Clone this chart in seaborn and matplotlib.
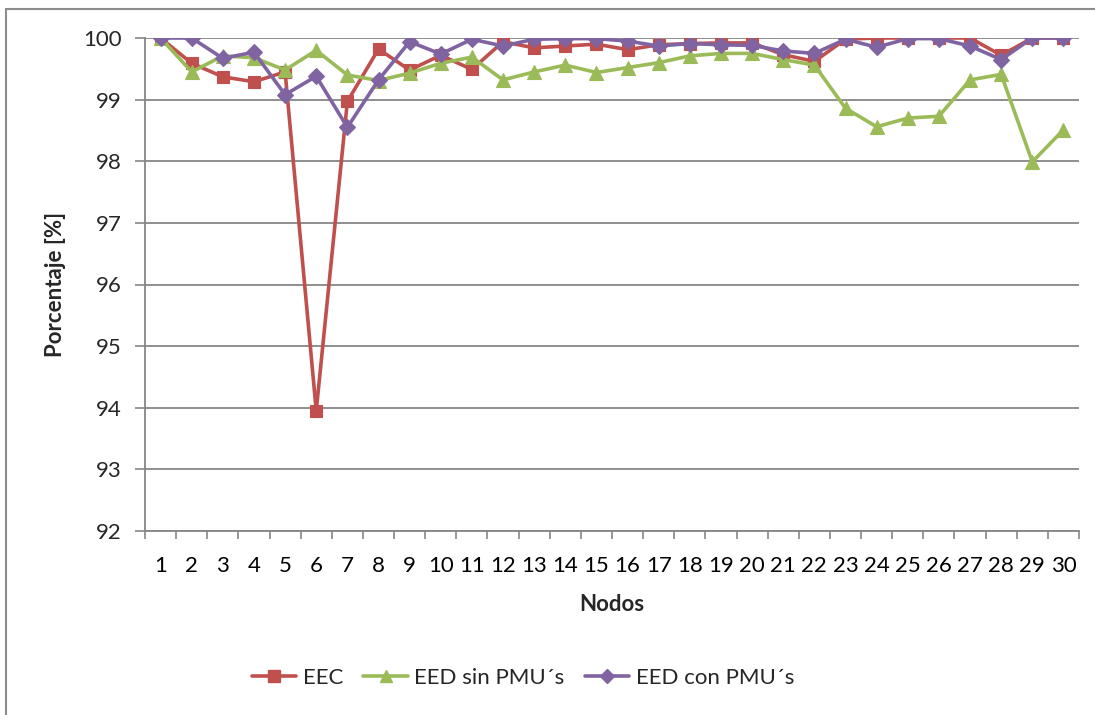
import matplotlib
matplotlib.use("Agg")
import matplotlib.pyplot as plt
from matplotlib.lines import Line2D
from matplotlib.ticker import FixedLocator, NullFormatter
import seaborn as sns
import pandas as pd

# Node numbers and estimation percentages per method
nodos = list(range(1, 31))
eec = [100.0, 99.59, 99.37, 99.29, 99.45, 93.95, 98.97, 99.82, 99.48, 99.72,
       99.49, 99.94, 99.84, 99.87, 99.90, 99.81, 99.89, 99.91, 99.92, 99.92,
       99.73, 99.62, 99.98, 100.0, 100.0, 100.0, 100.0, 99.72, 100.0, 100.0]
eed_sin = [100.0, 99.45, 99.71, 99.68, 99.48, 99.80, 99.40, 99.31, 99.43, 99.59,
           99.69, 99.32, 99.45, 99.56, 99.44, 99.52, 99.60, 99.71, 99.75, 99.75,
           99.65, 99.56, 98.86, 98.56, 98.70, 98.73, 99.32, 99.41, 97.99, 98.51]
eed_con = [100.0, 100.0, 99.67, 99.77, 99.08, 99.38, 98.55, 99.32, 99.94, 99.74,
           99.98, 99.87, 99.98, 99.99, 99.99, 99.95, 99.87, 99.91, 99.89, 99.88,
           99.79, 99.75, 99.98, 99.85, 99.99, 99.99, 99.87, 99.65, 100.0, 100.0]
series_names = ["EEC", "EED sin PMU\u00b4s", "EED con PMU\u00b4s"]
y_ticks = list(range(92, 101))

colors = ["#C0504D", "#9BBB59", "#8064A2"]
markers = ["s", "^", "D"]
msizes = [9, 10, 8]

df = pd.DataFrame({
    "Nodos": nodos * 3,
    "Porcentaje": eec + eed_sin + eed_con,
    "Serie": [series_names[0]] * 30 + [series_names[1]] * 30 + [series_names[2]] * 30,
})

sns.set_theme(style="white")
plt.rcParams["font.family"] = ["Lato", "DejaVu Sans"]
fs = 16

fig = plt.figure(figsize=(10.95, 7.15), dpi=100)
ax = fig.add_axes([145 / 1095, 1 - 531 / 715, (1079 - 145) / 1095, (531 - 38) / 715])

grid_col = "#868686"
for yv in y_ticks:
    ax.axhline(yv, color=grid_col, lw=1.3, zorder=0)

for name, c, m, ms in zip(series_names, colors, markers, msizes):
    sub = df[df["Serie"] == name]
    sns.lineplot(data=sub, x="Nodos", y="Porcentaje", ax=ax, color=c, lw=2.6,
                 marker=m, markersize=ms, markeredgecolor=c, markeredgewidth=0.8,
                 legend=False, zorder=3)

ax.set_xlim(0.5, 30.5)
ax.set_ylim(92, 100)
ax.set_xticks(nodos)
ax.set_xticklabels([str(n) for n in nodos], fontsize=fs)
ax.xaxis.set_minor_locator(FixedLocator([n + 0.5 for n in range(0, 31)]))
ax.xaxis.set_minor_formatter(NullFormatter())
ax.set_yticks(y_ticks)
ax.set_yticklabels([str(v) for v in y_ticks], fontsize=fs)
ax.tick_params(axis="x", which="major", length=0, pad=18, colors="black")
ax.tick_params(axis="x", which="minor", length=6, width=1.2, color=grid_col, direction="out", bottom=True)
ax.tick_params(axis="y", which="major", length=7, width=1.2, color=grid_col, direction="out", left=True, pad=10)

for s in ["top", "right"]:
    ax.spines[s].set_visible(False)
for s in ["left", "bottom"]:
    ax.spines[s].set_color(grid_col)
    ax.spines[s].set_linewidth(1.3)

ax.set_xlabel("Nodos", fontsize=fs, fontweight="bold", labelpad=13)
ax.set_ylabel("Porcentaje [%]", fontsize=fs, fontweight="bold", labelpad=12)

handles = [Line2D([0], [0], color=c, lw=2.6, marker=m, markersize=ms * 0.9, markeredgecolor=c)
           for c, m, ms in zip(colors, markers, msizes)]
fig.legend(handles, series_names, loc="center", bbox_to_anchor=(523 / 1095, 1 - 678 / 715),
           ncol=3, frameon=False, fontsize=fs, handlelength=2.0, handletextpad=0.3,
           columnspacing=0.9)

# chart area border
fig.add_artist(Line2D([6 / 1095, 6 / 1095], [0, 1 - 9 / 715], transform=fig.transFigure,
                      color="#8c8c8c", lw=1.5))
fig.add_artist(Line2D([6 / 1095, 1], [1 - 9 / 715, 1 - 9 / 715], transform=fig.transFigure,
                      color="#8c8c8c", lw=1.5))

fig.savefig("out.png", dpi=100)
